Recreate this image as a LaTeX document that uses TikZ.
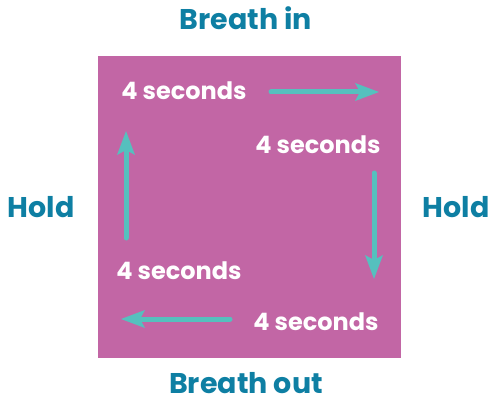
\documentclass[tikz,border=0pt]{standalone}
\usepackage{fontspec}
\setmainfont{Poppins}
\usetikzlibrary{arrows.meta}
\definecolor{boxpurple}{HTML}{C266A5}
\definecolor{titleteal}{HTML}{0E7FA3}
\definecolor{arrowteal}{HTML}{55C0BE}
\tikzset{
  title/.style={text=titleteal, font=\bfseries\fontsize{28.5}{32}\selectfont, inner sep=0pt, anchor=base},
  secs/.style={text=white, font=\bfseries\fontsize{24}{28}\selectfont, inner sep=0pt, anchor=base},
  flow/.style={draw=arrowteal, line width=5pt, line cap=round, -{Stealth[length=24pt,width=18pt,inset=5pt,line width=0pt]}}
}
\begin{document}
\begin{tikzpicture}[x=1pt,y=-1pt]
\useasboundingbox (0,0) rectangle (492,401);
\fill[boxpurple] (98,56) rectangle (401,358);
\node[title] (tin) at (246,30) {Breath in};
\node[title] (tout) at (246,393) {Breath out};
\node[title] (hl) at (41,217) {Hold};
\node[title] (hr) at (456,217) {Hold};
\node[secs] (s1) at (184,100) {4 seconds};
\node[secs] (s2) at (318,153) {4 seconds};
\node[secs] (s3) at (179,279) {4 seconds};
\node[secs] (s4) at (316,330) {4 seconds};
\coordinate (a1s) at (271,92);
\coordinate (a1e) at (379,92);
\coordinate (a2s) at (374,173);
\coordinate (a2e) at (374,279);
\coordinate (a3s) at (230,319);
\coordinate (a3e) at (121,319);
\coordinate (a4s) at (126,238);
\coordinate (a4e) at (126,131);
\draw[flow] (a1s) -- (a1e);
\draw[flow] (a2s) -- (a2e);
\draw[flow] (a3s) -- (a3e);
\draw[flow] (a4s) -- (a4e);
\end{tikzpicture}
\end{document}
